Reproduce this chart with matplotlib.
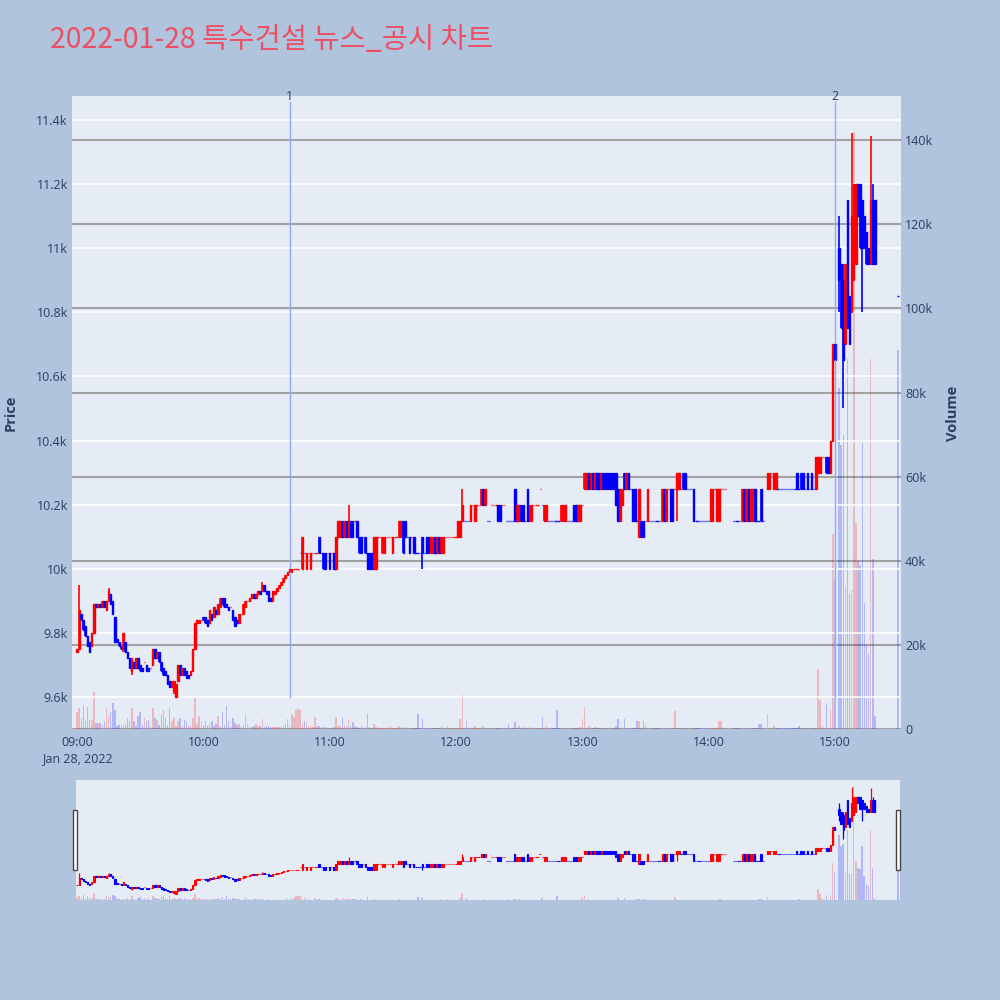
import numpy as np
import pandas as pd
import matplotlib
matplotlib.use('Agg')
import matplotlib.pyplot as plt
import matplotlib.dates as mdates
from matplotlib.ticker import FuncFormatter, FixedLocator
from matplotlib.patches import Rectangle

nan = float('nan')

# 1-minute candles from 09:00 (index = minutes after the open)
opens = [
    9740, 9750, 9860, 9840, 9820, 9790, 9770, 9760, 9800, 9890,
    9880, 9890, 9880, 9900, 9870, 9900, 9920, 9900, 9850, 9780,
    9770, 9760, 9750, 9770, 9740, 9720, 9680, 9710, 9690, 9720,
    9700, 9690, 9710, 9700, 9690, 9690, 9700, 9750, 9720, 9740,
    9710, 9690, 9680, 9670, 9650, 9630, 9620, 9600, 9650, 9700,
    9670, 9690, 9680, 9670, 9670, 9680, 9750, 9830, 9830, 9840,
    9850, 9850, 9840, 9830, 9860, 9850, 9870, 9860, 9880, 9910,
    9910, 9890, 9880, 9880, 9870, 9850, 9840, 9830, 9860, 9860,
    9880, 9900, 9900, 9910, 9920, 9910, 9920, 9930, 9930, 9950,
    9930, 9930, 9910, 9900, 9920, 9930, 9940, 9950, 9960, 9970,
    9980, 9990, 9990, 10000, 10000, 10000, 10050, 10000, 10050, 10000,
    10050, 10000, 10050, 10050, 10050, 10100, 10050, 10050, 10050, 10050,
    10050, 10050, 10050, 10000, 10100, 10100, 10150, 10100, 10150, 10100,
    10150, 10150, 10150, 10150, 10100, 10100, 10100, 10100, 10050, 10050,
    10050, 10000, 10000, 10100, 10100, 10050, 10050, 10100, 10100, 10100,
    10050, 10100, 10100, 10100, 10100, 10150, 10150, 10100, 10100, 10100,
    10100, 10050, 10050, 10050, 10100, 10050, 10100, 10100, 10050, 10050,
    10100, 10050, 10100, 10050, 10050, 10100, 10100, 10100, 10100, 10100,
    10100, 10100, 10100, 10150, 10150, 10150, 10150, 10150, 10200, 10150,
    10200, 10200, 10200, 10250, 10200, 10150, 10150, 10200, 10200, 10200,
    10200, 10200, 10200, 10200, 10150, 10150, 10150, 10150, 10250, 10150,
    10150, 10200, 10200, 10150, 10250, 10150, 10150, 10200, 10200, 10200,
    10250, 10200, 10150, 10150, 10150, 10150, 10150, 10150, 10150, 10150,
    10150, 10150, 10150, 10150, 10150, 10150, 10200, 10200, 10150, 10150,
    10200, 10250, 10250, 10300, 10250, 10300, 10250, 10300, 10300, 10250,
    10300, 10300, 10300, 10300, 10300, 10300, 10300, 10250, 10150, 10200,
    10300, 10250, 10300, 10250, 10250, 10250, 10150, 10100, 10150, 10150,
    10150, 10150, 10150, 10150, 10150, 10150, 10150, 10150, 10150, 10250,
    10150, 10250, 10250, 10250, 10250, 10250, 10250, 10250, 10300, 10300,
    10250, 10250, 10250, 10250, 10150, 10150, 10150, 10150, 10150, 10150,
    10150, 10150, 10150, 10250, 10150, 10150, 10250, 10250, 10250, nan,
    nan, nan, 10150, 10150, 10150, 10150, 10150, 10250, 10150, 10250,
    10150, 10150, 10250, 10150, 10150, 10250, 10150, nan, 10250, 10250,
    10300, 10250, 10250, 10250, 10250, 10250, 10250, 10250, 10250, 10250,
    10250, 10250, 10300, 10250, 10300, 10300, 10250, 10300, 10250, 10300,
    10250, 10250, 10300, 10300, 10350, 10350, 10350, 10350, 10300, 10400,
    10700, nan, 11000, 10950, 10900, 10700, 11150, 10850, 10800, 10900,
    10950, 11200, 11200, 11150, 11100, 11050, 11000, 10950, 11150, 11150,
]
closes = [
    9750, 9870, 9840, 9810, 9790, 9760, 9740, 9800, 9890, 9880,
    9890, 9880, 9900, 9880, 9900, 9930, 9890, 9860, 9770, 9770,
    9760, 9750, 9800, 9740, 9720, 9690, 9720, 9690, 9720, 9690,
    9680, 9680, 9710, 9680, 9680, 9690, 9750, 9720, 9740, 9710,
    9680, 9670, 9670, 9640, 9630, 9650, 9650, 9640, 9700, 9670,
    9690, 9670, 9660, 9660, 9680, 9750, 9830, 9840, 9840, 9840,
    9840, 9830, 9820, 9870, 9840, 9880, 9860, 9890, 9910, 9890,
    9880, 9880, 9870, 9880, 9840, 9820, 9830, 9860, 9860, 9890,
    9900, 9900, 9910, 9920, 9910, 9920, 9930, 9920, 9950, 9930,
    9920, 9900, 9900, 9930, 9930, 9940, 9950, 9960, 9970, 9980,
    9990, 10000, 10000, 10000, 10000, 10000, 10050, 10100, 10050, 10050,
    10050, 10050, 10050, 10050, 10050, 10050, 10050, 10000, 10000, 10050,
    10000, 10050, 10000, 10100, 10150, 10150, 10100, 10150, 10100, 10150,
    10100, 10100, 10150, 10100, 10050, 10050, 10100, 10050, 10000, 10000,
    10000, 10100, 10100, 10100, 10100, 10100, 10100, 10100, 10100, 10100,
    10100, 10100, 10100, 10150, 10150, 10050, 10100, 10100, 10050, 10100,
    10050, 10050, 10050, 10050, 10050, 10050, 10050, 10050, 10100, 10100,
    10050, 10100, 10050, 10100, 10100, 10100, 10100, 10100, 10100, 10100,
    10100, 10150, 10150, 10200, 10150, 10150, 10150, 10200, 10200, 10200,
    10200, 10200, 10250, 10200, 10250, 10150, 10150, 10200, 10200, 10200,
    10150, 10150, 10200, 10200, 10150, 10150, 10150, 10150, 10150, 10200,
    10200, 10150, 10150, 10150, 10150, 10200, 10200, 10200, 10200, 10200,
    10250, 10200, 10200, 10200, 10150, 10150, 10150, 10150, 10150, 10150,
    10200, 10200, 10200, 10150, 10150, 10150, 10150, 10150, 10200, 10200,
    10200, 10300, 10300, 10250, 10300, 10250, 10300, 10250, 10250, 10300,
    10250, 10250, 10250, 10250, 10250, 10250, 10200, 10150, 10250, 10250,
    10250, 10300, 10250, 10250, 10150, 10150, 10150, 10250, 10100, 10100,
    10150, 10250, 10150, 10150, 10150, 10150, 10150, 10150, 10250, 10150,
    10250, 10250, 10150, 10150, 10250, 10300, 10300, 10250, 10250, 10250,
    10250, 10250, 10250, 10150, 10150, 10150, 10150, 10150, 10150, 10150,
    10150, 10250, 10250, 10250, 10250, 10250, 10250, 10250, 10250, nan,
    nan, nan, 10150, 10150, 10150, 10150, 10250, 10150, 10250, 10150,
    10250, 10250, 10150, 10150, 10150, 10150, 10150, nan, 10300, 10300,
    10300, 10300, 10300, 10250, 10250, 10250, 10250, 10250, 10250, 10250,
    10250, 10250, 10250, 10250, 10250, 10250, 10250, 10250, 10250, 10250,
    10250, 10350, 10350, 10350, 10350, 10350, 10300, 10300, 10400, 10700,
    10650, nan, 10900, 10750, 10650, 10950, 10750, 10700, 11100, 11200,
    11200, 11100, 11000, 11000, 11000, 10950, 10950, 11150, 10950, 10950,
]
volumes = [
    4100, 4900, 2500, 5700, 1800, 5300, 2100, 2100, 8700, 1400,
    1400, 1400, 900, 1800, 5000, 3300, 4100, 6300, 4500, 800,
    1000, 700, 1200, 900, 2500, 1800, 5000, 1800, 600, 3000,
    4100, 900, 2500, 1800, 2100, 600, 5000, 2500, 2100, 1000,
    3300, 4500, 2500, 900, 5000, 1800, 2500, 700, 1800, 2500,
    800, 2100, 1800, 700, 900, 2500, 7700, 1200, 3000, 1800,
    900, 1800, 700, 1400, 1800, 800, 1200, 3000, 800, 4100,
    900, 5500, 1800, 700, 2500, 1400, 900, 1200, 600, 900,
    3600, 1200, 800, 500, 800, 1200, 600, 700, 2400, 500,
    600, 800, 400, 500, 500, 500, 500, 500, 600, 1200,
    2400, 1000, 3600, 2800, 4400, 4800, 4400, 1200, 2000, 1600,
    800, 600, 500, 2800, 600, 800, 500, 400, 400, 300,
    300, 200, 400, 2800, 800, 600, 2800, 900, 700, 2400,
    800, 1600, 800, 400, 300, 800, 300, 400, 3600, 500,
    300, 1200, 400, 200, 300, 200, 300, 200, 200, 800,
    200, 300, 300, 800, 400, 300, 400, 200, 300, 200,
    200, 300, 3600, 300, 2400, 200, 300, 200, 300, 200,
    200, 300, 300, 800, 200, 200, 800, 200, 200, 200,
    200, 300, 2400, 8200, 300, 2000, 300, 200, 300, 600,
    200, 300, 400, 800, 300, 200, 200, 200, 200, 200,
    200, 300, 200, 200, 200, 1200, 300, 200, 1600, 300,
    800, 200, 400, 200, 300, 400, 200, 300, 200, 300,
    200, 2800, 300, 800, 200, 200, 300, 200, 4400, 200,
    300, 200, 200, 300, 200, 200, 300, 200, 300, 400,
    2400, 5300, 300, 800, 500, 300, 400, 300, 200, 300,
    300, 200, 300, 200, 300, 200, 600, 2400, 300, 300,
    2400, 300, 200, 300, 200, 300, 1800, 1800, 300, 1800,
    1000, 200, 200, 200, 200, 300, 200, 200, 300, 200,
    200, 300, 200, 200, 4200, 300, 200, 300, 200, 300,
    200, 200, 300, 200, 200, 300, 200, 200, 200, 200,
    200, 300, 200, 200, 300, 1800, 1800, 300, 200, 0,
    0, 0, 200, 300, 200, 300, 300, 200, 200, 300,
    200, 300, 200, 300, 1200, 1200, 300, 0, 3600, 300,
    200, 800, 200, 300, 200, 200, 300, 200, 200, 300,
    200, 200, 300, 800, 300, 200, 200, 300, 200, 300,
    200, 300, 14300, 6900, 800, 300, 6300, 300, 4400, 46400,
    35700, 0, 81000, 67500, 70000, 33700, 88000, 32000, 33000, 142000,
    49000, 40000, 39000, 68000, 30000, 20000, 18000, 88000, 40500, 3000,
]

# wicks that stick out of the body
wick_minutes = [1, 15, 22, 26, 46, 88, 129, 164, 183, 285, 359, 362, 364, 368, 373, 377, 378]
wick_highs = [9950, 9940, nan, nan, nan, 9960, 10200, nan, 10250, nan, 10700, 11100, 10950, 11360, nan, 11350, 11200]
wick_lows = [nan, nan, 9740, 9670, 9610, nan, nan, 10000, nan, 10150, nan, 10800, 10500, nan, 10800, nan, nan]

# closing auction at 15:30
auction_minute = 390
auction_price = 10850
auction_volume = 90000

# news / disclosure markers
event_minutes = [101, 360]
event_labels = ['1', '2']

price_ticks = [9600, 9800, 10000, 10200, 10400, 10600, 10800, 11000, 11200, 11400]
volume_ticks = [0, 20000, 40000, 60000, 80000, 100000, 120000, 140000]
hour_ticks = ['09:00', '10:00', '11:00', '12:00', '13:00', '14:00', '15:00']

BG = '#b0c4de'
PLOT_BG = '#e5ecf6'
TXT = '#2a3f5f'
UP = '#ff0000'
DOWN = '#0000ff'
ONE_MIN = 1 / 1440


def build_candles():
    minutes = np.array(list(range(len(opens))) + [auction_minute], dtype=float)
    o = np.array(opens + [auction_price], dtype=float)
    c = np.array(closes + [auction_price], dtype=float)
    v = np.array(volumes + [auction_volume], dtype=float)
    h = np.fmax(o, c)
    l = np.fmin(o, c)
    for m, hi, lo in zip(wick_minutes, wick_highs, wick_lows):
        if not np.isnan(hi):
            h[m] = hi
        if not np.isnan(lo):
            l[m] = lo
    # plotly style direction: doji follows the previous close
    up = np.zeros(len(o), dtype=bool)
    prev_c, prev_up = None, True
    for i in range(len(o)):
        if np.isnan(o[i]):
            continue
        if c[i] > o[i]:
            d = True
        elif c[i] < o[i]:
            d = False
        elif prev_c is not None and c[i] != prev_c:
            d = c[i] > prev_c
        else:
            d = prev_up
        up[i] = d
        prev_c, prev_up = c[i], d
    ok = ~np.isnan(o)
    base = mdates.date2num(pd.Timestamp('2022-01-28 09:00'))
    x = base + minutes * ONE_MIN
    return x[ok], o[ok], h[ok], l[ok], c[ok], v[ok], up[ok], base


def draw(ax, axv, x, o, h, l, c, v, up, body_w, body_lw, wick_lw, vol_alpha):
    for mask, col in ((up, UP), (~up, DOWN)):
        axv.bar(x[mask], v[mask], width=0.7 * ONE_MIN, color=col, alpha=vol_alpha, linewidth=0)
        ax.vlines(x[mask], l[mask], h[mask], color=col, linewidth=wick_lw)
        ax.bar(x[mask], c[mask] - o[mask], bottom=o[mask], width=body_w * ONE_MIN,
               color=col, edgecolor=col, linewidth=body_lw)


def stack_axes(ax, axv):
    # volume axis underneath, price candles on top
    ax.set_zorder(axv.get_zorder() + 1)
    ax.patch.set_visible(False)
    axv.patch.set_visible(True)
    axv.set_facecolor(PLOT_BG)


def main():
    x, o, h, l, c, v, up, base = build_candles()

    fig = plt.figure(figsize=(10, 10), dpi=100, facecolor=BG)
    fig.text(0.05, 0.96, '2022-01-28 특수건설 뉴스_공시 차트', fontsize=20.5, color='#ec5064',
             family=['Noto Sans CJK KR', 'DejaVu Sans'], va='center', ha='left')

    # main panel: price on the left, volume on the right
    ax = fig.add_axes([0.072, 0.271, 0.829, 0.633])
    axv = ax.twinx()
    stack_axes(ax, axv)

    xlim = (base - 2.4 * ONE_MIN, base + 391.4 * ONE_MIN)
    ax.set_xlim(xlim)
    ax.set_ylim(9500, 11475)
    axv.set_ylim(0, 150500)

    ax.yaxis.set_major_locator(FixedLocator(price_ticks))
    ax.yaxis.set_major_formatter(FuncFormatter(lambda val, _: '{:g}k'.format(val / 1000)))
    axv.yaxis.set_major_locator(FixedLocator(volume_ticks))
    axv.yaxis.set_major_formatter(FuncFormatter(lambda val, _: '0' if val == 0 else '{:g}k'.format(val / 1000)))

    hour_pos = [mdates.date2num(pd.Timestamp('2022-01-28 ' + t)) for t in hour_ticks]
    hour_lab = [t + ('\nJan 28, 2022' if i == 0 else '') for i, t in enumerate(hour_ticks)]
    ax.set_xticks(hour_pos)
    ax.set_xticklabels(hour_lab, linespacing=1.3)

    ax.grid(axis='y', color='white', linewidth=1.1)
    ax.set_axisbelow(True)
    axv.grid(axis='y', color='#a2a2a2', linewidth=1.5)
    axv.set_axisbelow(True)
    axv.axhline(0, color='white', linewidth=2.2, zorder=0.5)

    for a in (ax, axv):
        for s in a.spines.values():
            s.set_visible(False)
        a.tick_params(length=0, labelsize=9, labelcolor=TXT, pad=3,
                      labelfontfamily='Open Sans')
    ax.tick_params(axis='x', pad=5)

    draw(ax, axv, x, o, h, l, c, v, up, body_w=0.6, body_lw=1.0, wick_lw=1.2, vol_alpha=0.22)

    for m, lab in zip(event_minutes, event_labels):
        xe = base + m * ONE_MIN
        ax.plot([xe, xe], [9600, 11455], color='#93a8f0', linewidth=1, zorder=1)
        ax.text(xe, 11472, lab, ha='center', va='center', fontsize=9, color=TXT,
                family='Open Sans', clip_on=False)

    fig.text(0.011, 0.587, 'Price', rotation=90, ha='center', va='center', fontsize=10.5,
             fontweight='bold', color=TXT, family='Open Sans')
    fig.text(0.953, 0.587, 'Volume', rotation=90, ha='center', va='center', fontsize=10.5,
             fontweight='bold', color=TXT, family='Open Sans')

    # range slider overview
    axs = fig.add_axes([0.076, 0.1, 0.824, 0.12])
    axsv = axs.twinx()
    stack_axes(axs, axsv)
    axs.set_xlim(base - 0.5 * ONE_MIN, base + 391 * ONE_MIN)
    axs.set_ylim(9500, 11475)
    axsv.set_ylim(0, 150500)
    for a in (axs, axsv):
        a.set_xticks([])
        a.set_yticks([])
        for s in a.spines.values():
            s.set_visible(False)
    draw(axs, axsv, x, o, h, l, c, v, up, body_w=0.6, body_lw=0.8, wick_lw=0.9, vol_alpha=0.22)

    for hx in (0.073, 0.896):
        fig.patches.append(Rectangle((hx, 0.13), 0.004, 0.06, transform=fig.transFigure,
                                     facecolor='white', edgecolor='#444444', linewidth=1))

    fig.savefig('out.png', dpi=100, facecolor=BG)


if __name__ == '__main__':
    main()
